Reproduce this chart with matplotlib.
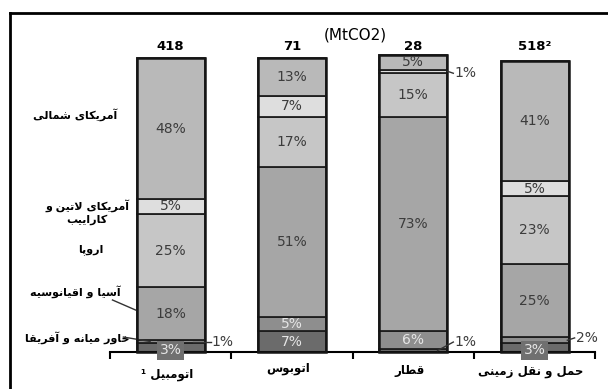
import numpy as np
import matplotlib
matplotlib.use('Agg')
from matplotlib import pyplot as plt
from matplotlib.lines import Line2D

plt.rcParams['font.family'] = ['DejaVu Sans']

# transport modes and their total emissions (MtCO2)
modes = ['اتومبیل', 'اتوبوس', 'قطار', 'حمل و نقل زمینی']
mode_marks = ['¹ ', '', '', '']
totals = ['418', '71', '28', '518²']

# regional shares in percent, stacked bottom to top
share_other = [3, 7, 1, 3]
share_mideast = [1, 5, 6, 2]
share_asia = [18, 51, 73, 25]
share_europe = [25, 17, 15, 23]
share_latam = [5, 7, 1, 5]
share_namerica = [48, 13, 5, 41]

region_names = ['', 'خاور میانه و آفریقا', 'آسیا و اقیانوسیه', 'اروپا',
                'آمریکای لاتین و\nکاراییب', 'آمریکای شمالی']

# presentation forms: isolated, final, initial, medial
FORMS = {
    'ا': ('\uFE8D', '\uFE8E', None, None),
    'آ': ('\uFE81', '\uFE82', None, None),
    'ب': ('\uFE8F', '\uFE90', '\uFE91', '\uFE92'),
    'پ': ('\uFB56', '\uFB57', '\uFB58', '\uFB59'),
    'ت': ('\uFE95', '\uFE96', '\uFE97', '\uFE98'),
    'ح': ('\uFEA1', '\uFEA2', '\uFEA3', '\uFEA4'),
    'خ': ('\uFEA5', '\uFEA6', '\uFEA7', '\uFEA8'),
    'ر': ('\uFEAD', '\uFEAE', None, None),
    'ز': ('\uFEAF', '\uFEB0', None, None),
    'س': ('\uFEB1', '\uFEB2', '\uFEB3', '\uFEB4'),
    'ش': ('\uFEB5', '\uFEB6', '\uFEB7', '\uFEB8'),
    'ط': ('\uFEC1', '\uFEC2', '\uFEC3', '\uFEC4'),
    'ف': ('\uFED1', '\uFED2', '\uFED3', '\uFED4'),
    'ق': ('\uFED5', '\uFED6', '\uFED7', '\uFED8'),
    'ک': ('\uFB8E', '\uFB8F', '\uFB90', '\uFB91'),
    'ل': ('\uFEDD', '\uFEDE', '\uFEDF', '\uFEE0'),
    'م': ('\uFEE1', '\uFEE2', '\uFEE3', '\uFEE4'),
    'ن': ('\uFEE5', '\uFEE6', '\uFEE7', '\uFEE8'),
    'ه': ('\uFEE9', '\uFEEA', '\uFEEB', '\uFEEC'),
    'و': ('\uFEED', '\uFEEE', None, None),
    'ی': ('\uFBFC', '\uFBFD', '\uFBFE', '\uFBFF'),
    'ئ': ('\uFE89', '\uFE8A', '\uFE8B', '\uFE8C'),
}


def shape_line(text):
    tokens = []
    i = 0
    while i < len(text):
        if text[i] == 'ل' and i + 1 < len(text) and text[i + 1] == 'ا':
            tokens.append('لا')
            i += 2
        else:
            tokens.append(text[i])
            i += 1

    def dual(t):
        return t in FORMS and FORMS[t][2] is not None

    def joins(t):
        return t in FORMS or t == 'لا'

    out = []
    for k, t in enumerate(tokens):
        prev = tokens[k - 1] if k > 0 else None
        nxt = tokens[k + 1] if k + 1 < len(tokens) else None
        jp = prev is not None and dual(prev)
        jn = dual(t) and nxt is not None and joins(nxt)
        if t == 'لا':
            out.append('\uFEFC' if jp else '\uFEFB')
        elif t not in FORMS:
            out.append(t)
        else:
            iso, fin, ini, med = FORMS[t]
            out.append(med if jp and jn else fin if jp else ini if jn else iso)
    return ''.join(reversed(out))


def fa(text):
    return '\n'.join(shape_line(s) for s in text.split('\n'))


series = [share_other, share_mideast, share_asia, share_europe, share_latam, share_namerica]
colors = ['#6b6b6b', '#8e8e8e', '#a6a6a6', '#c6c6c6', '#dedede', '#b9b9b9']
text_colors = ['#e6e6e6', '#e6e6e6', '#3c3c3c', '#3c3c3c', '#3c3c3c', '#3c3c3c']

fig = plt.figure(figsize=(6.08, 3.89), dpi=100)
ax = fig.add_axes([0.181, 0.095, 0.798, 0.756])

x = np.arange(len(modes))
width = 0.56
bottom = np.zeros(len(modes))
for si, (vals, col) in enumerate(zip(series, colors)):
    vals = np.array(vals, dtype=float)
    ax.bar(x, vals, width, bottom=bottom, color=col, edgecolor='#1e1e1e',
           linewidth=1.3, clip_on=False, zorder=2)
    for xi, v, b in zip(x, vals, bottom):
        if v < 3:
            continue
        kw = dict(ha='center', va='center', fontsize=10, color=text_colors[si], zorder=4)
        ty = b + v / 2
        if si == 0 and v <= 3:
            # boxed label hanging below the baseline
            kw['bbox'] = dict(boxstyle='square,pad=0.2', fc='#707070', ec='none')
            ty = 0.6
        ax.text(xi, ty, f'{int(v)}%', **kw)
    bottom += vals

# outline each whole bar a little heavier
ax.bar(x, bottom, width, fill=False, edgecolor='#151515', linewidth=1.8,
       clip_on=False, zorder=3)

# small shares labelled outside the bars
small = [(0, 1, 0.18, 3.5, 0.34, 3.5),
         (2, 4, 2.28, 95.5, 2.34, 94.8),
         (2, 0, 2.2, 0.5, 2.34, 3.4),
         (3, 1, 3.27, 4.0, 3.34, 4.8)]
for bi, si, lx0, ly0, tx, ty in small:
    ax.plot([lx0, tx - 0.01], [ly0, ty], color='#333333', lw=1, clip_on=False, zorder=3)
    ax.text(tx, ty, f'{series[si][bi]}%', ha='left', va='center', fontsize=10,
            color='#3c3c3c')

# totals above bars
for xi, t in zip(x, totals):
    ax.text(xi, 101.8, t, ha='center', va='bottom', fontsize=9.5, fontweight='bold')

ax.text(1.52, 107.8, '(MtCO2)', ha='center', va='center', fontsize=11)

# region names on the left of the first bar
region_pos = [None, (-0.77, 4.8), (-0.79, 20.4), (-0.66, 34.7), (-0.69, 47.6), (-0.79, 80.6)]
for name, pos in zip(region_names, region_pos):
    if pos is None:
        continue
    ax.text(pos[0], pos[1], fa(name), ha='center', va='center', fontsize=8,
            fontweight='bold', linespacing=1.4)
ax.plot([-0.48, -0.29], [17.7, 14.3], color='#333333', lw=1, clip_on=False)
ax.plot([-0.39, -0.17], [5.1, 3.6], color='#333333', lw=1, clip_on=False)

# mode names under the axis
label_y = [-7.8, -5.6, -6.2, -6.6]
for xi, m, mark, ly in zip(x, modes, mode_marks, label_y):
    ax.text(xi - 0.03, ly, mark + fa(m), ha='center', va='center', fontsize=8.5,
            fontweight='bold')

ax.set_xlim(-0.5, 3.5)
ax.set_ylim(0, 100)
for side in ['left', 'right', 'top']:
    ax.spines[side].set_visible(False)
ax.spines['bottom'].set_linewidth(1.5)
ax.set_xticks([-0.5, 0.5, 1.5, 2.5, 3.5])
ax.set_xticklabels([])
ax.set_yticks([])
ax.tick_params(axis='x', direction='out', length=5, width=1.5)

# frame around the figure
fig.add_artist(Line2D([0.0164, 0.0164], [0, 0.9666], color='black', lw=2))
fig.add_artist(Line2D([0.0164, 1], [0.9666, 0.9666], color='black', lw=2))

fig.savefig('out.png', dpi=100)
